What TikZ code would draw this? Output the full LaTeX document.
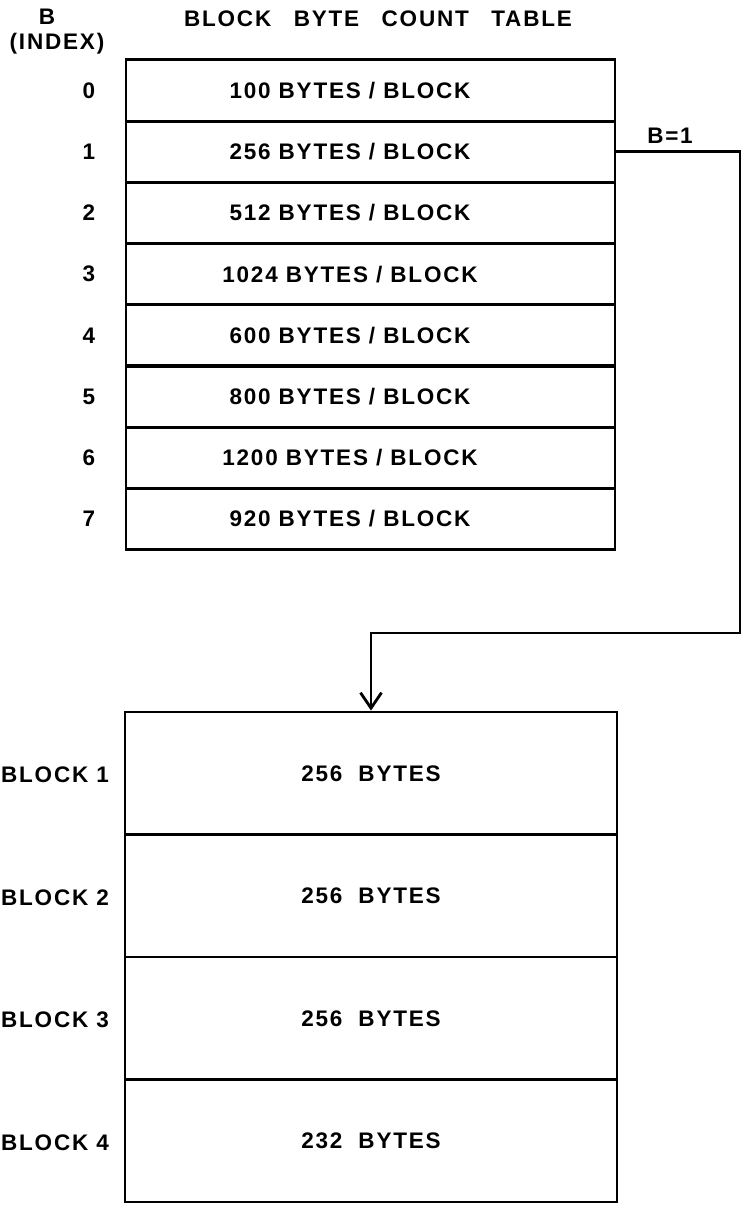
\documentclass[tikz,border=0pt]{standalone}
\usepackage{fontspec}
\setmainfont[LetterSpace=8]{Liberation Sans}
\usetikzlibrary{arrows.meta}

\begin{document}
\begin{tikzpicture}[x=0.025cm,y=-0.025cm,font=\fontsize{16}{19}\selectfont\bfseries,line width=2pt,
  rowbox/.style={draw,minimum width=12.225cm,minimum height=1.535cm,inner sep=0pt},
  blkbox/.style={draw,minimum width=12.3cm,minimum height=3.0625cm,inner sep=0pt}]
\useasboundingbox (0,0) rectangle (743,1205);
\def\xtab{370.5}
\def\xtxt{350}
\def\xidx{89}
\def\dy{61.2}
\def\dyb{122.5}

\node (hdb) at (47,17) {B};
\node (hdidx) at (57,44) {(INDEX)};
\node (title) at (378,19) {BLOCK\hspace{1em}BYTE\hspace{1em}COUNT\hspace{1em}TABLE};

\foreach \size/\i in {
100/0,
256/1,
512/2,
1024/3,
600/4,
800/5,
1200/6,
920/7
}{
  \node[rowbox] (row\i) at (\xtab,90.6+\i*\dy) {};
  \node (txt\i) at (\xtxt,90.6+\i*\dy) {\size\ BYTES / BLOCK};
  \node (idx\i) at (\xidx,90.6+\i*\dy) {\i};
}

\foreach \size/\j in {256/1,256/2,256/3,232/4}{
  \node[blkbox] (blk\j) at (371,773.25+\j*\dyb-\dyb) {\size\ \ BYTES};
  \node (blklbl\j) at (55,775+\j*\dyb-\dyb) {BLOCK \j};
}

\node (bsel) at (670,136) {B=1};
\coordinate (turn) at (740,633);
\draw[-{Straight Barb[length=11pt,width=15pt]}] (row1.east) -| (turn) -| (blk1.north);
\end{tikzpicture}
\end{document}
